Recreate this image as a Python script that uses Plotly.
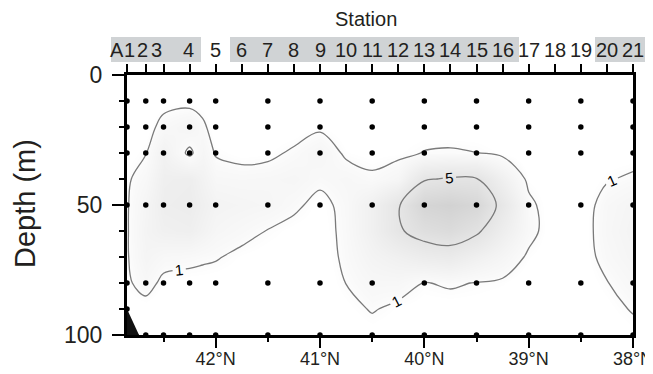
import plotly.graph_objects as go

# ---------------- data ----------------
depths = [0, 10, 20, 30, 40, 50, 60, 70, 80, 90, 100]
# latitude of grid columns (stations 1..21, plus one column between st.4 and st.5)
grid_lat = [42.85, 42.67, 42.5, 42.25, 42.125, 42.0, 41.75, 41.5, 41.25, 41.0, 40.75,
            40.5, 40.25, 40.0, 39.75, 39.5, 39.25, 39.0, 38.75, 38.5, 38.25, 38.0]

# values per column, from 0 m to 100 m
st1 = [0.1, 0.2, 0.3, 0.5, 0.85, 0.9, 0.9, 0.9, 0.8, 0.4, 0.2]
st2 = [0.1, 0.2, 0.5, 0.95, 1.5, 2.0, 2.2, 2.0, 1.5, 0.5, 0.2]
st3 = [0.2, 0.6, 1.4, 2.5, 3.0, 3.2, 2.8, 1.5, 0.7, 0.3, 0.2]
st4 = [0.2, 0.6, 2.0, 0.7, 3.2, 3.4, 3.0, 1.35, 0.55, 0.3, 0.2]
st4b = [0.1, 0.4, 1.3, 1.8, 2.4, 2.8, 2.4, 1.2, 0.55, 0.3, 0.2]
st5 = [0.1, 0.2, 0.3, 0.9, 1.6, 2.2, 1.8, 1.1, 0.5, 0.3, 0.2]
st6 = [0.1, 0.2, 0.3, 0.6, 1.5, 2.0, 1.4, 0.7, 0.4, 0.3, 0.2]
st7 = [0.1, 0.2, 0.3, 0.7, 1.6, 1.8, 0.95, 0.5, 0.3, 0.2, 0.2]
st8 = [0.1, 0.2, 0.4, 1.2, 1.8, 1.25, 0.6, 0.4, 0.3, 0.2, 0.2]
st9 = [0.1, 0.3, 0.8, 1.8, 1.3, 0.6, 0.45, 0.4, 0.3, 0.2, 0.15]
st10 = [0.1, 0.2, 0.4, 0.8, 1.6, 1.4, 1.35, 1.25, 1.02, 0.6, 0.3]
st11 = [0.1, 0.2, 0.4, 0.6, 1.2, 2.8, 2.8, 2.2, 1.6, 1.1, 0.5]
st12 = [0.1, 0.2, 0.4, 0.7, 1.8, 4.8, 4.7, 2.8, 1.6, 0.7, 0.3]
st13 = [0.1, 0.2, 0.5, 1.05, 4.8, 7.5, 6.0, 3.5, 0.95, 0.5, 0.3]
st14 = [0.1, 0.2, 0.4, 1.15, 5.2, 8.0, 6.5, 3.8, 1.15, 0.5, 0.3]
st15 = [0.1, 0.2, 0.4, 1.02, 5.1, 7.2, 5.4, 2.8, 0.95, 0.5, 0.3]
st16 = [0.1, 0.2, 0.3, 0.7, 2.8, 4.3, 3.2, 1.9, 0.8, 0.4, 0.3]
st17 = [0.1, 0.1, 0.2, 0.3, 0.7, 1.3, 1.4, 0.8, 0.3, 0.2, 0.2]
st18 = [0.1, 0.1, 0.1, 0.2, 0.3, 0.3, 0.35, 0.3, 0.2, 0.15, 0.1]
st19 = [0.1, 0.1, 0.1, 0.2, 0.3, 0.4, 0.45, 0.45, 0.4, 0.3, 0.2]
st20 = [0.1, 0.1, 0.2, 0.4, 0.9, 1.5, 1.6, 1.4, 0.95, 0.6, 0.3]
st21 = [0.1, 0.1, 0.2, 0.5, 1.2, 2.0, 2.2, 2.0, 1.6, 1.1, 0.6]

columns = [st1, st2, st3, st4, st4b, st5, st6, st7, st8, st9, st10, st11, st12,
           st13, st14, st15, st16, st17, st18, st19, st20, st21]

# sampling points
sample_lat = [42.85, 42.67, 42.5, 42.25, 42.0, 41.5, 41.0, 40.5, 40.0, 39.5, 39.0, 38.5, 38.0]
sample_depths = [10, 20, 30, 50, 80, 100]
station1_depths = [10, 20, 30, 50, 80, 90]

# station ticks (stations 1..21)
station_lat = [42.85, 42.67, 42.5, 42.25, 42.0, 41.75, 41.5, 41.25, 41.0, 40.75, 40.5,
               40.25, 40.0, 39.75, 39.5, 39.25, 39.0, 38.75, 38.5, 38.25, 38.0]
station_labels = ["A"] + [str(i) for i in range(1, 22)]
label_lat = [42.95, 42.83, 42.706, 42.572, 42.265] + station_lat[4:]

# seafloor
seafloor_lat = [42.85, 42.85, 42.735]
seafloor_depth = [90, 100, 100]

lat_ticks = [42, 41, 40, 39, 38]
lat_text = ["42°N", "41°N", "40°N", "39°N", "38°N"]

# ---------------- figure ----------------
x_asc = grid_lat[::-1]
z_asc = [[columns[c][r] for c in range(len(columns))][::-1] for r in range(len(depths))]

TXT = "#231f20"
FONT = "Liberation Sans, Arial, sans-serif"

fig = go.Figure()
fig.add_trace(go.Contour(
    x=x_asc, y=depths, z=z_asc,
    zmin=0, zmax=9, showscale=False,
    colorscale=[[0, "#ffffff"], [0.08, "#ffffff"], [0.14, "#f9f9f9"],
                [0.35, "#eeeeee"], [0.6, "#e2e2e2"], [1, "#cccccc"]],
    autocontour=False,
    contours=dict(coloring="heatmap", start=1, end=5, size=4, showlines=True,
                  showlabels=True, labelfont=dict(size=15, color="black", family=FONT)),
    line=dict(color="#7a7a7a", width=1.3, smoothing=1.0),
    hoverinfo="skip",
))

fig.add_trace(go.Scatter(
    x=seafloor_lat, y=seafloor_depth, mode="lines", fill="toself",
    fillcolor="#111111", line=dict(color="#111111", width=1), hoverinfo="skip",
))

dx, dy = [], []
for i, la in enumerate(sample_lat):
    ds = station1_depths if i == 0 else sample_depths
    for d in ds:
        dx.append(la)
        dy.append(d)
fig.add_trace(go.Scatter(
    x=dx, y=dy, mode="markers", marker=dict(color="black", size=5.5),
    cliponaxis=False, hoverinfo="skip",
))

# invisible trace so the top station axis is drawn
fig.add_trace(go.Scatter(
    x=station_lat, y=[50] * len(station_lat), xaxis="x2", mode="markers",
    marker=dict(opacity=0), hoverinfo="skip",
))

# the page body has an 8 px margin, so the figure is offset by 8 px
OFF = 8
W, H = 653, 374
L, R, T, B = 127 - OFF, 20 + OFF, 75 - OFF, 39 + OFF
pw, ph = W - L - R, H - T - B


def px_to_paper_x(px):
    return (px - OFF - L) / pw


def px_to_paper_y(py):
    return (H - B - (py - OFF)) / ph


shapes = []
for a, b in [(111, 201), (230, 519), (595, 647)]:
    shapes.append(dict(type="rect", xref="paper", yref="paper",
                       x0=px_to_paper_x(a), x1=px_to_paper_x(b),
                       y0=px_to_paper_y(62), y1=px_to_paper_y(37),
                       fillcolor="#d0d3d5", line=dict(width=0), layer="below"))

xr = [42.85, 38.0]
annotations = []
for lab, la in zip(station_labels, label_lat):
    annotations.append(dict(text=lab, xref="paper", yref="paper",
                            x=(xr[0] - la) / (xr[0] - xr[1]), y=px_to_paper_y(50),
                            showarrow=False, xanchor="center", yanchor="middle",
                            font=dict(size=20, color=TXT, family=FONT)))
annotations.append(dict(text="Station", xref="paper", yref="paper",
                        x=px_to_paper_x(366), y=px_to_paper_y(19), showarrow=False,
                        xanchor="center", yanchor="middle",
                        font=dict(size=20, color=TXT, family=FONT)))
annotations.append(dict(text="Depth (m)", xref="paper", yref="paper",
                        x=px_to_paper_x(25), y=px_to_paper_y(204), showarrow=False,
                        textangle=-90, xanchor="center", yanchor="middle",
                        font=dict(size=29, color=TXT, family=FONT)))

fig.update_layout(
    width=W, height=H, margin=dict(l=L, r=R, t=T, b=B, autoexpand=False),
    paper_bgcolor="white", plot_bgcolor="white", showlegend=False,
    shapes=shapes, annotations=annotations,
    xaxis=dict(range=xr, tickvals=lat_ticks, ticktext=lat_text, ticks="outside",
               ticklen=10, tickwidth=2, tickcolor="black", showline=True,
               linewidth=3, linecolor="black", mirror=True, showgrid=False,
               zeroline=False, automargin=False, ticklabelstandoff=-5,
               tickfont=dict(size=18, color=TXT, family=FONT),
               minor=dict(tickvals=[42.5, 41.5, 40.5, 39.5, 38.5], ticks="outside",
                          ticklen=4, tickwidth=2, tickcolor="black", showgrid=False)),
    xaxis2=dict(range=xr, overlaying="x", side="top", anchor="y", tickvals=station_lat,
                ticks="outside", ticklen=8, tickwidth=2, tickcolor="black",
                showticklabels=False, showline=True, linewidth=3, linecolor="black",
                showgrid=False, zeroline=False, automargin=False),
    yaxis=dict(range=[100, 0], tickvals=[0, 50, 100], ticks="outside", ticklen=12,
               tickwidth=2, tickcolor="black", showline=True, linewidth=3,
               linecolor="black", mirror=True, showgrid=False, zeroline=False,
               automargin=False, ticklabelstandoff=5,
               tickfont=dict(size=23, color=TXT, family=FONT),
               minor=dict(dtick=10, tick0=0, ticks="outside", ticklen=5, tickwidth=2,
                          tickcolor="black", showgrid=False)),
)

fig.write_html("out.html")
